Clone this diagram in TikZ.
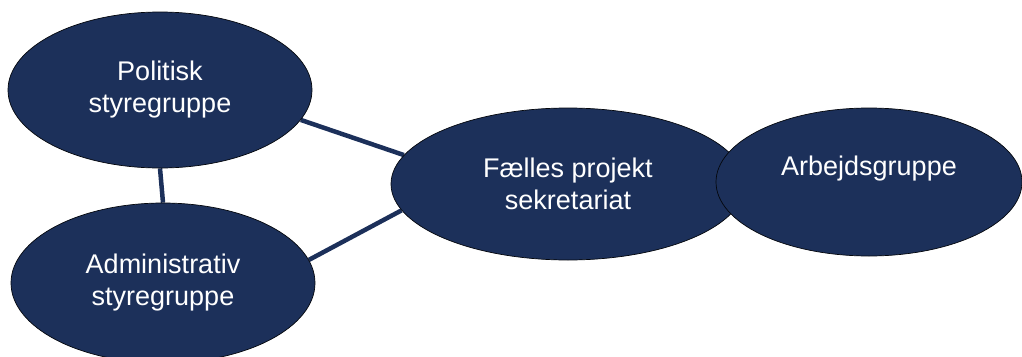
\documentclass[tikz,border=0pt]{standalone}
\usepackage{fontspec}
\setmainfont{Liberation Sans}
\usetikzlibrary{shapes.geometric,backgrounds}
\definecolor{navy}{RGB}{28,48,90}
\tikzset{
  group/.style={ellipse, fill=navy, draw=black!85!navy, line width=0.7pt,
    inner sep=0pt, text=white, align=center,
    font=\fontsize{27}{32}\selectfont},
  link/.style={draw=navy, line width=4.5pt}
}
\begin{document}
\begin{tikzpicture}[x=1pt, y=-1pt]
  \useasboundingbox (0,0) rectangle (1022,356);
  \clip (0,0) rectangle (1022,356);
  % the four groups
  \node[group, minimum width=304pt, minimum height=156pt] (pol) at (160,90) {Politisk\\styregruppe};
  \node[group, minimum width=304pt, minimum height=160pt] (adm) at (163,283) {Administrativ\\styregruppe};
  \node[group, minimum width=354pt, minimum height=152pt] (fps) at (568,184) {Fælles projekt\\sekretariat};
  \node[group, minimum width=306pt, minimum height=148pt] (arb) at (869,182) {Arbejdsgruppe\\[-10pt]\strut};
  % connectors behind the ellipses
  \begin{scope}[on background layer]
    \draw[link] (pol.south) -- (adm.north);
    \draw[link] (pol.-12) -- (fps.170);
    \draw[link] (adm.9) -- (fps.189);
  \end{scope}
\end{tikzpicture}
\end{document}
